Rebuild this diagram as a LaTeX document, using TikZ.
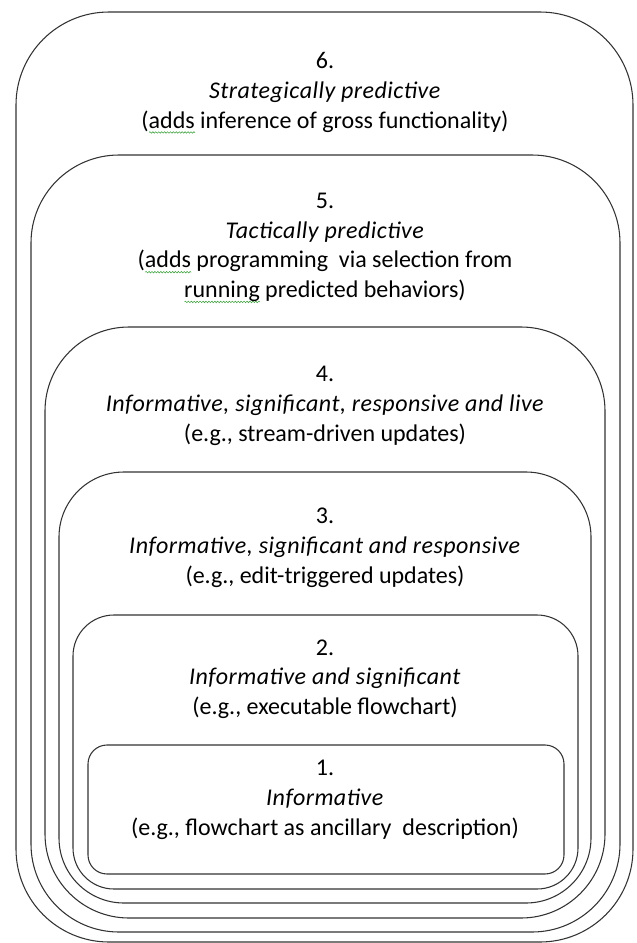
\documentclass[tikz,border=0pt]{standalone}
\usepackage{fontspec}
\setmainfont{Carlito}[ItalicFeatures={LetterSpace=2}]
\usetikzlibrary{positioning,decorations.pathmorphing}
\definecolor{spellgreen}{RGB}{70,165,70}

%%% green spell-check wave under a word
\newlength\wavelen
\newcommand\spellwave[1]{\settowidth\wavelen{#1}%
	\rlap{\tikz[baseline=0pt,x=1pt,y=1pt]\draw[spellgreen,line width=0.45pt,decorate,
		decoration={snake,amplitude=0.55pt,segment length=2.2pt}] (0,-3.2) -- (\wavelen,-3.2);}#1}

\begin{document}
\begin{tikzpicture}[x=0.75pt,y=-0.75pt,
	level/.style={draw=black!80,line width=0.8pt},
	lbl/.style={align=center,inner sep=0pt,font=\fontsize{18}{22.3}\selectfont}]
\useasboundingbox (0,0) rectangle (636,943);
%%%  nested levels: number/left/top/right/bottom/corner
\foreach \n/\l/\t/\r/\b/\c in {6/16/12/633/942/93,5/31/155/620/932/88,
	4/45/327/605/918/84,3/59/472/591/903/65,2/73/615/578/889/41,1/88/745/564/874/19}{%
	\draw[level,rounded corners=\c*0.75pt] (\l,\t) rectangle (\r,\b);
}

%%%%%%%%% labels %%%%%%%%
\node[lbl] (lvl6) at (325,93) {6.\\\textit{Strategically predictive}\\(\spellwave{adds} inference of gross functionality)};
\node[lbl] (lvl5) at (325,248) {5.\\\textit{Tactically predictive}\\(\spellwave{adds} programming\ \ via selection from\\\spellwave{running} predicted behaviors)};
\node[lbl] (lvl4) at (325,406) {4.\\\textit{Informative, significant, responsive and live}\\(e.g., stream-driven updates)};
\node[lbl] (lvl3) at (325,548) {3.\\\textit{Informative, significant and responsive}\\(e.g., edit-triggered updates)};
\node[lbl] (lvl2) at (325,679) {2.\\\textit{Informative and significant}\\(e.g., executable flowchart)};
\node[lbl] (lvl1) at (325,800) {1.\\\textit{Informative}\\(e.g., flowchart as ancillary\ \ description)};

\end{tikzpicture}
\end{document}
